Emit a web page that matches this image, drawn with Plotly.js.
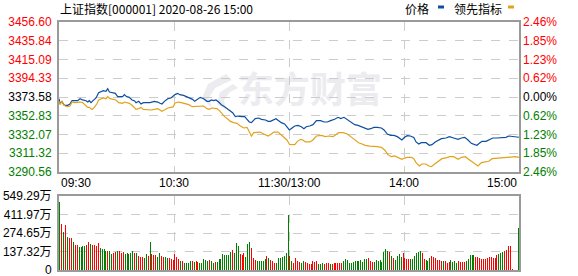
<!DOCTYPE html>
<html><head><meta charset="utf-8">
<script src="https://cdn.plot.ly/plotly-3.0.1.min.js"></script>
<style>html,body{margin:0;padding:0;background:#fff;overflow:hidden}#chart{width:578px;height:276px}</style>
</head><body><div id="chart"></div>
<script>
// ---- data ----
const titleText = '上证指数[000001] 2020-08-26 15:00';
const seriesNames = ['价格', '领先指标'];
const watermarkText = '东方财富';
const prevClose = 3373.58;
const priceTicks = [3456.60,3435.84,3415.09,3394.33,3373.58,3352.83,3332.07,3311.32,3290.56];
const pctLabels = ['2.46%','1.85%','1.23%','0.62%','0.00%','0.62%','1.23%','1.85%','2.46%'];
const volTicks = [0,137.32,274.65,411.97,549.29];
const volLabels = ['0','137.32万','274.65万','411.97万','549.29万'];
const timeTicks = [0,60,120,180,240];
const timeLabels = ['09:30','10:30','11:30/13:00','14:00','15:00'];

// minutes since 09:30 (trading minutes), price
const priceT = [0,0.5,1.6,2.8,4.5,5.7,6.8,9.7,11,12.3,
 14.1,15,15.8,16.7,17.9,19.3,20.7,21.9,23.1,24.5,
 25.4,26.3,27.7,29.4,30.6,33.2,34.1,35.3,36.7,38.1,
 39.3,40.2,41.6,42.8,44,47.5,49.7,51.5,52.7,53.7,
 55,56.7,58.4,59.7,60.7,62,63,65,66.3,68.5,
 69.7,70.8,72,73.7,75.5,77.2,78.4,79.5,80.7,81.9,
 83.3,84.7,86.4,88.2,89.4,90.6,92,93.4,95.5,96.9,
 98.1,99.3,100.4,101.6,102.4,104.2,105.6,107.7,109.1,110.3,
 112,113.2,114.6,116,117.7,118.9,120.2,121.6,123,124.7,
 126.4,127.8,129,130.8,132.5,134.3,136.5,138.3,140,141.7,
 143.8,145.6,147,148.7,150.4,152.2,154.3,156,158.1,159.8,
 161.2,162.6,164.3,166.1,168.2,169.6,171.3,173,174.8,176.5,
 177.7,178.9,180.3,181.7,183.3,185.1,186.3,187.7,189,191.5,
 193.2,194.6,196.3,198.1,199.5,201.9,203.7,205.9,208.2,210,
 211.7,213.4,215.1,216.9,218.1,219.3,220.7,222.8,224.5,226.3,
 228.5,231.1,233.2,234.6,237.2,238.4,240];
const priceV = [3371.7,3366.9,3368.0,3364.4,3364.4,3365.8,3369.5,3369.5,3371.7,3370.3,
 3369.5,3368.0,3369.5,3367.3,3369.9,3372.5,3378.4,3379.9,3380.6,3379.9,
 3382.8,3379.1,3378.4,3377.6,3374.0,3374.0,3376.2,3374.0,3373.2,3370.3,
 3369.5,3367.3,3368.8,3365.8,3367.3,3367.3,3368.8,3368.0,3366.6,3365.8,
 3368.8,3371.7,3372.5,3374.7,3376.5,3377.6,3376.2,3375.4,3374.0,3372.5,
 3371.0,3368.8,3371.0,3373.2,3371.7,3368.8,3368.8,3370.3,3369.5,3370.3,
 3368.0,3365.1,3362.9,3359.9,3358.5,3356.2,3351.8,3352.5,3351.8,3351.8,
 3348.9,3345.9,3345.2,3348.1,3349.6,3350.3,3348.9,3348.1,3346.6,3346.6,
 3348.1,3349.6,3347.4,3345.2,3343.7,3340.7,3337.1,3339.3,3341.5,3342.2,
 3340.7,3338.5,3340.7,3341.5,3343.0,3347.4,3347.4,3345.9,3345.9,3347.4,
 3348.9,3351.1,3349.6,3351.1,3348.9,3346.6,3343.0,3342.2,3340.7,3339.3,
 3337.8,3338.5,3340.0,3340.0,3339.3,3337.1,3332.6,3331.1,3331.1,3329.7,
 3328.2,3326.0,3329.0,3330.8,3330.4,3328.9,3323.8,3321.6,3323.0,3323.0,
 3320.1,3320.8,3323.8,3326.0,3327.5,3328.2,3329.7,3328.2,3326.7,3328.2,
 3328.9,3326.0,3322.3,3320.8,3320.1,3322.3,3324.5,3324.5,3326.7,3328.2,
 3328.2,3328.9,3328.9,3330.4,3329.7,3329.7,3329.0];

const leadT = [0,0.5,1.6,2.3,3.3,4.5,5.7,6.8,8,11,
 12.3,13.7,15,15.8,17.2,18.4,19.7,20.7,21.9,23.1,
 24.5,25.4,26.6,28,29.7,31.1,33.2,34.1,35.3,36.7,
 38.1,39.3,40.2,41.6,42.8,44,47.9,49.7,51.5,52.7,
 53.7,55,56.7,58.4,59.7,60.4,62.1,63.8,66,67.7,
 69.4,72,75.5,77.2,78.4,79.8,82.4,83.7,85.1,86.4,
 88.2,89.4,91.1,92.9,94.6,96.4,98.1,99.3,100.4,101.6,
 103.3,105,106.8,109.1,110.8,112,114.3,115.5,117.2,118.9,
 120.3,123,124.4,126.1,127.3,128.5,130.8,132.5,134.3,136.9,
 139,140.7,143,144.7,145.9,148.2,150.4,152.2,154.3,156.3,
 158.1,159.8,162.1,164.3,166.1,168.2,169.9,171.7,173.4,175.1,
 176.9,178.9,180.3,181.6,183.8,185.1,186.3,188,189.4,191.5,
 192.9,194.3,196,198.1,199.8,201.9,203.7,205.9,208.2,210,
 212,213.7,215.5,217.2,218.6,220.4,222.4,224.2,226,229.4,
 232,234.3,236,238.1,240];
const leadV = [3368.8,3365.1,3369.5,3365.1,3363.6,3362.9,3363.6,3368.0,3367.3,3368.0,
 3367.3,3365.1,3362.1,3362.1,3359.9,3362.1,3365.8,3370.3,3371.7,3372.5,
 3371.7,3374.0,3371.7,3371.0,3370.3,3367.3,3366.6,3368.0,3367.3,3366.6,
 3364.4,3362.1,3359.9,3360.7,3362.1,3359.9,3359.2,3359.9,3360.7,3359.2,
 3357.7,3359.2,3361.4,3362.1,3362.9,3366.6,3368.0,3367.3,3365.8,3365.1,
 3362.9,3362.9,3363.6,3360.7,3359.9,3361.4,3360.7,3358.5,3354.8,3351.8,
 3348.9,3346.6,3345.2,3344.4,3341.5,3339.3,3340.0,3335.6,3330.4,3334.1,
 3334.8,3334.8,3332.6,3330.4,3332.6,3334.8,3334.8,3332.6,3329.7,3326.0,
 3321.0,3320.8,3324.5,3326.7,3326.0,3323.8,3323.8,3326.0,3330.4,3331.1,
 3329.7,3330.4,3329.7,3331.9,3334.1,3334.1,3332.6,3329.7,3326.7,3323.0,
 3321.6,3320.1,3319.3,3319.3,3318.6,3317.9,3314.9,3309.7,3307.5,3308.3,
 3306.8,3304.6,3306.0,3306.8,3306.8,3305.3,3300.9,3297.2,3299.4,3299.4,
 3297.2,3296.5,3299.4,3303.1,3305.3,3306.1,3307.5,3307.5,3304.6,3306.8,
 3307.5,3304.6,3301.6,3298.7,3297.2,3300.9,3301.6,3302.4,3305.3,3306.1,
 3306.8,3306.8,3307.5,3307.5,3306.8];

// volume per minute (万), one bar per trading minute; direction R = up, G = down
const volAM1 = [505,341,282,332,245,237,237,205,188,183,
 173,173,178,178,183,208,193,183,183,178,
 198,163,153,153,139,139,139,119,124,134,
 139,139,124,134,119,124,119,124,139,129,
 124,104,99,99,89,119,104,205,119,114,
 114,99,129,104,99,99,89,89,84,74];
const dirAM1 = 'GRGRGRRGRR'+'GGGGRRGRRR'+'RGGGGRGGRR'+'GRRRGGGGGR'+'GRRRGGRGRR'+'RGGRRGGRRR';
const volAM2 = [119,99,84,64,69,54,54,54,64,64,
 59,64,59,54,54,79,74,69,74,69,
 54,59,59,79,79,119,114,114,114,134,
 148,129,198,178,119,114,124,94,193,208,
 163,89,74,64,69,69,69,79,104,89,
 74,69,54,49,89,89,94,104,124,410];
const dirAM2 = 'RRRGRGGGGR'+'GRRGGGGGRG'+'GRGGGGGGGG'+'RGGGRRRGGG'+'RRRGGGGGRG'+'RRRGGGGGGG';
const volPM1 = [104,69,54,89,69,59,49,69,59,54,
 45,45,69,59,69,45,45,54,45,50,
 54,45,45,49,54,54,54,54,69,84,
 74,54,54,59,64,69,64,74,59,84,
 84,89,64,59,59,74,69,74,59,134,
 153,144,134,104,89,74,104,119,99,129];
const dirPM1 = 'RGRRRRGGRR'+'RRRRRGGGRR'+'RGRRRRRRGG'+'GGGGGGGGGG'+'GRRRGGGGGG'+'GGRGRGGGGR';
const volPM2 = [89,84,84,84,84,104,129,134,139,129,
 84,74,69,89,104,94,89,74,74,69,
 69,64,54,59,74,59,64,54,64,59,
 59,59,64,79,109,109,109,99,99,89,
 84,84,84,89,94,94,89,89,109,119,
 129,134,140,148,178,178,4,0,0,312];
const dirPM2 = 'RRRGGGGGGR'+'RGGGRRRRRR'+'GRRRGGGGRR'+'RRGGGGGRRR'+'RRRRRRRRRG'+'GGRRRRRGGG';

// ---- build ----
const vol = volAM1.concat(volAM2, volPM1, volPM2);
const dir = (dirAM1 + dirAM2 + dirPM1 + dirPM2).split('');
const RED = '#ff0000', GREEN = '#008000', BLUE = '#0e4f9f', ORANGE = '#e2a21c', WM = '#ececf0';
const tickColor = v => Math.abs(v - prevClose) < 0.005 ? '#000' : (v > prevClose ? RED : GREEN);
const span = (c, t) => '<span style="color:' + c + '">' + t + '</span>';

const traces = [
  {type:'scatter', mode:'lines', x:priceT, y:priceV, xaxis:'x', yaxis:'y',
   line:{color:BLUE, width:1.2}, hoverinfo:'skip', name:seriesNames[0]},
  {type:'scatter', mode:'lines', x:leadT, y:leadV, xaxis:'x', yaxis:'y',
   line:{color:ORANGE, width:1.2}, hoverinfo:'skip', name:seriesNames[1]},
  {type:'scatter', mode:'markers', x:[timeTicks[0]], y:[prevClose], xaxis:'x', yaxis:'y2',
   marker:{opacity:0}, hoverinfo:'skip'},
  {type:'bar', x:vol.map((_, k) => k + 0.5), y:vol, xaxis:'x2', yaxis:'y3',
   width:0.55, marker:{color:dir.map(d => d === 'R' ? RED : GREEN), line:{width:0}}, hoverinfo:'skip'}
];

const W = 578, H = 276, L = 59, R = 59, T = 22, B = 6;
const pw = W - L - R, ph = H - T - B;
const px = x => (x - L) / pw, py = y => (H - B - y) / ph;

const gridStyle = {showgrid:true, gridcolor:'#cccccc', gridwidth:1, griddash:'dash'};
const frame = {showline:true, mirror:true, linecolor:'#9a9a9a', linewidth:2, zeroline:false, ticks:'', fixedrange:true};
const tfont = {family:'Liberation Sans, Noto Sans CJK SC, sans-serif', size:12, color:'#000'};

const annotations = [];
timeTicks.forEach((t, i) => {
  annotations.push({xref:'x', yref:'paper', x:t, y:py(183), text:timeLabels[i], showarrow:false,
    xanchor: i === 0 ? 'left' : (i === timeTicks.length - 1 ? 'right' : 'center'), yanchor:'middle',
    font:tfont});
});
annotations.push({xref:'paper', yref:'paper', x:px(58), y:py(9), text:titleText, showarrow:false,
  xanchor:'left', yanchor:'middle', font:{family:'Noto Sans CJK SC, sans-serif', size:12, color:'#000'}});
annotations.push({xref:'paper', yref:'paper', x:px(431), y:py(9), text:seriesNames[0], showarrow:false,
  xanchor:'right', yanchor:'middle', font:{family:'Noto Sans CJK SC, sans-serif', size:12, color:'#000'}});
annotations.push({xref:'paper', yref:'paper', x:px(452), y:py(9), text:seriesNames[1], showarrow:false,
  xanchor:'left', yanchor:'middle', font:{family:'Noto Sans CJK SC, sans-serif', size:12, color:'#000'}});

// watermark logo (stylised flame) in pixel space -> paper
const logoPts = [[226,74],[208,84],[202,98],[212,108],[209,98],[215,88],[232,80]];
const logoPath = 'M' + logoPts.map(p => px(p[0]).toFixed(4) + ',' + py(p[1]).toFixed(4)).join(' L') + ' Z';
const logoPts2 = [[233,84],[220,92],[217,104],[226,110],[224,100],[230,92],[238,88]];
const logoPath2 = 'M' + logoPts2.map(p => px(p[0]).toFixed(4) + ',' + py(p[1]).toFixed(4)).join(' L') + ' Z';

const shapes = [
  {type:'rect', xref:'paper', yref:'paper', x0:px(438), x1:px(444), y0:py(8.5), y1:py(5.5), fillcolor:BLUE, line:{width:0}},
  {type:'rect', xref:'paper', yref:'paper', x0:px(508), x1:px(514), y0:py(8.5), y1:py(5.5), fillcolor:ORANGE, line:{width:0}},
  {type:'path', xref:'paper', yref:'paper', path:logoPath, fillcolor:WM, line:{width:0}, layer:'below'},
  {type:'path', xref:'paper', yref:'paper', path:logoPath2, fillcolor:WM, line:{width:0}, layer:'below'},
  {type:'rect', xref:'paper', yref:'paper', x0:px(234), x1:px(386), y0:py(113), y1:py(73), layer:'below',
   fillcolor:'rgba(0,0,0,0)', line:{width:0},
   label:{text:'<b>' + watermarkText + '</b>', textposition:'middle center',
     font:{family:'Noto Sans CJK SC, sans-serif', size:36, color:WM}}}
];

const layout = {
  width:W, height:H, margin:{l:L, r:R, t:T, b:B, pad:0},
  paper_bgcolor:'#fff', plot_bgcolor:'rgba(0,0,0,0)', showlegend:false,
  font:tfont,
  xaxis:Object.assign({domain:[0,1], range:[timeTicks[0], timeTicks[4]], anchor:'y',
    tickvals:timeTicks.slice(1,4), showticklabels:false}, gridStyle, frame),
  yaxis:Object.assign({domain:[py(172), 1], range:[priceTicks[8], priceTicks[0]], anchor:'x',
    tickvals:priceTicks, ticktext:priceTicks.map(v => span(tickColor(v), v.toFixed(2))),
    ticklabelstandoff:3, tickfont:tfont, ticklabeloverflow:'allow'}, gridStyle, frame),
  yaxis2:{overlaying:'y', side:'right', anchor:'x', range:[priceTicks[8], priceTicks[0]],
    tickvals:priceTicks, ticktext:priceTicks.map((v, i) => span(tickColor(v), pctLabels[i])),
    showgrid:false, zeroline:false, showline:false, ticks:'', ticklabelstandoff:3, tickfont:tfont,
    ticklabeloverflow:'allow', fixedrange:true},
  xaxis2:Object.assign({domain:[0,1], range:[timeTicks[0], timeTicks[4]], anchor:'y3',
    tickvals:timeTicks.slice(1,4), showticklabels:false}, gridStyle, frame),
  yaxis3:Object.assign({domain:[0, py(196)], range:[volTicks[0], volTicks[4]], anchor:'x2',
    tickvals:volTicks, ticktext:volLabels, ticklabelstandoff:3, tickfont:tfont,
    ticklabeloverflow:'allow'}, gridStyle, frame),
  bargap:0,
  annotations:annotations,
  shapes:shapes
};

Plotly.newPlot('chart', traces, layout, {staticPlot:true, displayModeBar:false});
</script>
</body></html>
